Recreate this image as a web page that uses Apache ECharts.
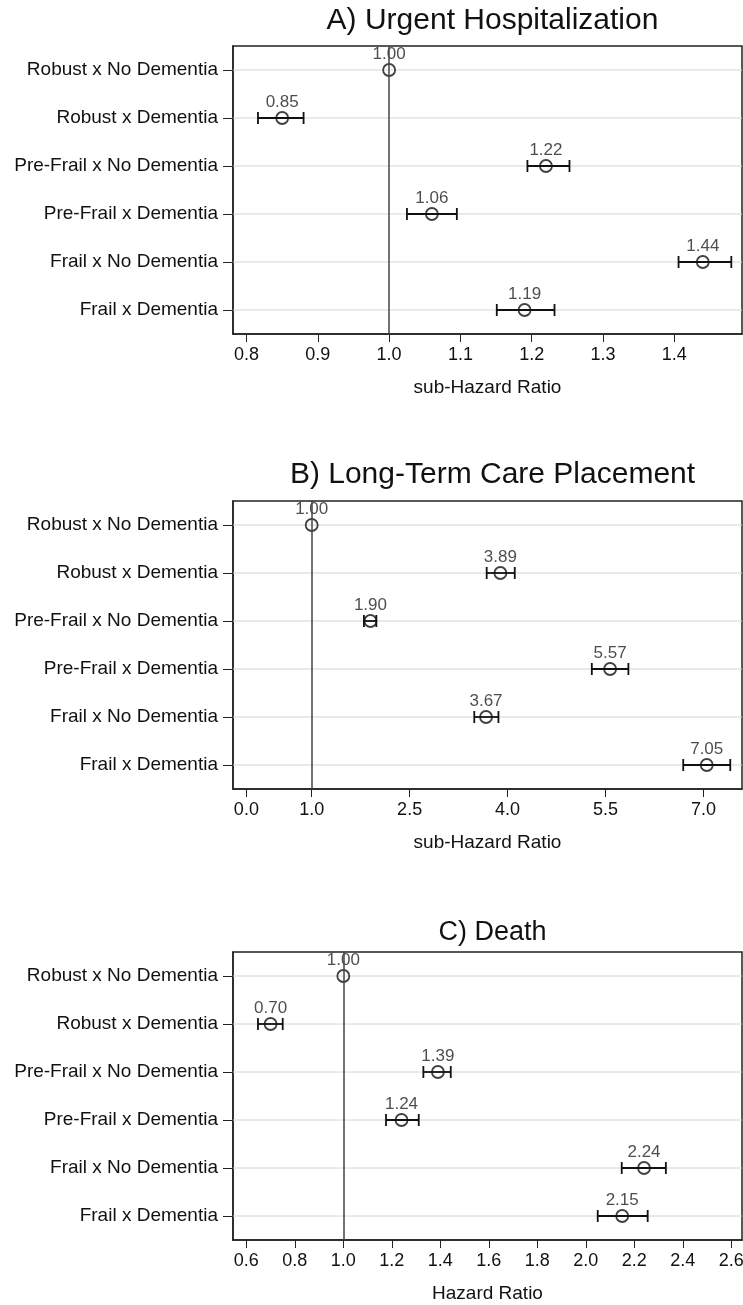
<!DOCTYPE html>
<html>
<head>
<meta charset="utf-8">
<script src="https://cdn.jsdelivr.net/npm/echarts@6/dist/echarts.min.js"></script>
<style>
  html, body { margin: 0; padding: 0; background: #ffffff; }
  #chart { width: 743px; height: 1305px; }
</style>
</head>
<body>
<div id="chart"></div>
<script>
// Row labels shared by all three panels (top to bottom)
const categories = [
  'Robust x No Dementia',
  'Robust x Dementia',
  'Pre-Frail x No Dementia',
  'Pre-Frail x Dementia',
  'Frail x No Dementia',
  'Frail x Dementia'
];

// A) Urgent hospitalization: sub-hazard ratios with 95% CI
const hospEst  = [1.00, 0.85, 1.22, 1.06, 1.44, 1.19];
const hospLow  = [1.00, 0.816, 1.194, 1.025, 1.406, 1.151];
const hospHigh = [1.00, 0.880, 1.253, 1.095, 1.480, 1.232];
const hospTicks = [0.8, 0.9, 1.0, 1.1, 1.2, 1.3, 1.4];

// B) Long-term care placement: sub-hazard ratios with 95% CI
const ltcEst  = [1.00, 3.89, 1.90, 5.57, 3.67, 7.05];
const ltcLow  = [1.00, 3.68, 1.80, 5.29, 3.49, 6.69];
const ltcHigh = [1.00, 4.11, 1.99, 5.85, 3.86, 7.41];
const ltcTicks = [0.0, 1.0, 2.5, 4.0, 5.5, 7.0];

// C) Death: hazard ratios with 95% CI
const deathEst  = [1.00, 0.70, 1.39, 1.24, 2.24, 2.15];
const deathLow  = [1.00, 0.648, 1.330, 1.176, 2.148, 2.049];
const deathHigh = [1.00, 0.750, 1.443, 1.311, 2.330, 2.255];
const deathTicks = [0.6, 0.8, 1.0, 1.2, 1.4, 1.6, 1.8, 2.0, 2.2, 2.4, 2.6];

const panels = [
  { title: 'A) Urgent Hospitalization', axisName: 'sub-Hazard Ratio',
    est: hospEst, low: hospLow, high: hospHigh, ticks: hospTicks,
    min: 0.781, max: 1.495, top: 46, titleTop: 1, titleSize: 30 },
  { title: 'B) Long-Term Care Placement', axisName: 'sub-Hazard Ratio',
    est: ltcEst, low: ltcLow, high: ltcHigh, ticks: ltcTicks,
    min: -0.205, max: 7.59, top: 501, titleTop: 455, titleSize: 30 },
  { title: 'C) Death', axisName: 'Hazard Ratio',
    est: deathEst, low: deathLow, high: deathHigh, ticks: deathTicks,
    min: 0.545, max: 2.644, top: 952, titleTop: 914, titleSize: 27 }
];

const FONT = '"Liberation Sans", Arial, Helvetica, sans-serif';
const INK = '#111111';
const GRID_LEFT = 233;
const GRID_WIDTH = 509;
const GRID_HEIGHT = 288;

const option = {
  animation: false,
  backgroundColor: '#ffffff',
  textStyle: { fontFamily: FONT },
  title: [],
  grid: [],
  xAxis: [],
  yAxis: [],
  series: []
};

panels.forEach((p, k) => {
  option.title.push({
    text: p.title,
    left: GRID_LEFT + GRID_WIDTH / 2,
    top: p.titleTop,
    textAlign: 'center',
    textStyle: { fontFamily: FONT, fontSize: p.titleSize, fontWeight: 'normal', color: INK }
  });

  option.grid.push({
    left: GRID_LEFT, top: p.top, width: GRID_WIDTH, height: GRID_HEIGHT,
    outerBoundsMode: 'none', containLabel: false,
    show: true, borderColor: '#222', borderWidth: 1.5, backgroundColor: '#ffffff'
  });

  option.xAxis.push({
    type: 'value', gridIndex: k, min: p.min, max: p.max,
    name: p.axisName, nameLocation: 'middle', nameGap: 44,
    nameTextStyle: { fontFamily: FONT, fontSize: 19, color: INK },
    axisLine: { show: true, onZero: false, lineStyle: { color: '#222', width: 1.5 } },
    axisTick: { show: true, length: 8, customValues: p.ticks, lineStyle: { color: '#222', width: 1 } },
    axisLabel: { show: true, margin: 12, customValues: p.ticks, fontSize: 18, color: INK,
      fontFamily: FONT, formatter: v => Number(v).toFixed(1) },
    splitLine: { show: false }
  });

  option.yAxis.push({
    type: 'category', gridIndex: k, data: categories, inverse: true,
    axisLine: { show: true, onZero: false, lineStyle: { color: '#222', width: 1.5 } },
    axisTick: { show: true, alignWithLabel: true, length: 10, lineStyle: { color: '#222', width: 1 } },
    axisLabel: { show: true, margin: 15, fontSize: 19, color: INK, fontFamily: FONT },
    splitLine: { show: false }
  });

  // horizontal guide line through each row
  option.series.push({
    type: 'custom', xAxisIndex: k, yAxisIndex: k, silent: true, z: 1,
    data: categories.map((c, i) => [p.est[i], i]),
    renderItem: (params, api) => {
      const y = api.coord([api.value(0), api.value(1)])[1];
      const cs = params.coordSys;
      return {
        type: 'line',
        shape: { x1: cs.x, y1: y, x2: cs.x + cs.width, y2: y },
        style: { stroke: '#d4d4d4', lineWidth: 1 }
      };
    }
  });

  // confidence interval bars with end caps
  option.series.push({
    type: 'custom', xAxisIndex: k, yAxisIndex: k, silent: true, z: 3,
    data: categories.map((c, i) => [p.low[i], p.high[i], i]),
    renderItem: (params, api) => {
      const lo = api.coord([api.value(0), api.value(2)]);
      const hi = api.coord([api.value(1), api.value(2)]);
      if (api.value(0) === api.value(1)) return { type: 'group', children: [] };
      const cap = 6;
      const st = { stroke: INK, lineWidth: 1.8 };
      return {
        type: 'group',
        children: [
          { type: 'line', shape: { x1: lo[0], y1: lo[1], x2: hi[0], y2: hi[1] }, style: st },
          { type: 'line', shape: { x1: lo[0], y1: lo[1] - cap, x2: lo[0], y2: lo[1] + cap }, style: st },
          { type: 'line', shape: { x1: hi[0], y1: hi[1] - cap, x2: hi[0], y2: hi[1] + cap }, style: st }
        ]
      };
    }
  });

  // point estimates with value labels and the reference line at 1
  option.series.push({
    type: 'scatter', xAxisIndex: k, yAxisIndex: k, z: 4,
    symbol: 'circle', symbolSize: 12,
    itemStyle: { color: 'rgba(255,255,255,0)', borderColor: INK, borderWidth: 1.8 },
    label: {
      show: true, position: 'top', distance: 0, fontSize: 17, color: '#222', fontFamily: FONT,
      formatter: d => d.value[0].toFixed(2)
    },
    data: categories.map((c, i) => [p.est[i], c]),
    markLine: {
      silent: true, symbol: 'none', animation: false,
      label: { show: false },
      lineStyle: { color: '#444', width: 1.5, type: 'solid' },
      data: [{ xAxis: 1 }]
    }
  });
});

const chart = echarts.init(document.getElementById('chart'), null, { renderer: 'canvas' });
chart.setOption(option);
</script>
</body>
</html>
